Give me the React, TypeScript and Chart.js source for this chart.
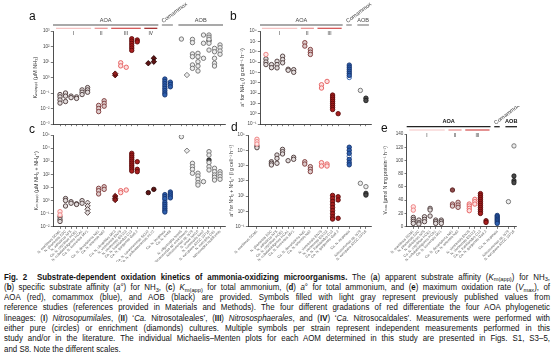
import React, { useEffect, useRef } from "react";
import { Chart, registerables } from "chart.js";
Chart.register(...registerables);

const FONT = "'Liberation Sans', 'DejaVu Sans', Arial, sans-serif";
Chart.defaults.font.family = FONT;

// ---------------- categories ----------------
const namesAC = [
  "N. maritimus SCM1", "N. piranensis D3C", "N. adriaticus NF5", "Ca. N. oxyclinae HCE1", "N. cobalaminigenes HCA1", "Ca. N. koreensis MY1",
  "Ca. N. devanaterra Nd1", "Ca. N. sinensis Nd2",
  "Ca. N. oleophilus MY3", "N. viennensis EN76", "N. viennensis EN123", "Ca. N. franklandus C13", "Ca. N. gargensis Ga9.2",
  "Ca. N. cavascurensis SCU2", "Ca. N. yellowstonensis HL72",
  "Ca. N. inopinata", "Ca. N. kreftii",
  "N. oligotropha Nm45", "Nitrosomonas sp. enrichment", "Nitrosomonas sp. Is79", "N. ureae Nm10", "N. communis Nm2", "N. europaea ATCC 19718", "N. eutropha C91", "Nitrosospira multiformis",
];
const namesBDE = [
  "N. maritimus SCM1", "N. piranensis D3C", "N. adriaticus NF5", "Ca. N. oxyclinae HCE1", "N. cobalaminigenes HCA1", "Ca. N. koreensis MY1",
  "Ca. N. devanaterra Nd1", "Ca. N. sinensis Nd2",
  "N. viennensis EN76", "N. viennensis EN123", "Ca. N. franklandus C13", "Ca. N. gargensis Ga9.2",
  "Ca. N. inopinata",
  "Nitrosomonas sp. Is79", "N. europaea ATCC 19718",
];
// category positions (with gaps between lineages)
const posAC = [1, 2, 3, 4, 5, 6, 8, 9, 11, 12, 13, 14, 15, 17, 18, 20, 21, 23, 24, 25, 26, 27, 28, 29, 30];
const posBE = [1, 2, 3, 4, 5, 6, 8, 9, 11, 12, 13, 14, 16, 18, 19];
const posD = [-0.6, 2, 3, 4, 5, 6, 8, 9, 11, 12, 13, 14, 16, 18, 19];

// ---------------- values: [category, style, values] ----------------
// (a) Km(app) for NH3, log10(µM)
const kmNH3: [number, string, number[]][] = [
  [0, "I", [-1.1, -1.25, -1.45, -1.65]],
  [1, "I", [-1.0, -1.2, -1.55]],
  [2, "I", [-1.2, -1.3]],
  [3, "I", [-1.25, -1.35]],
  [4, "I", [-0.8, -0.95, -1.1]],
  [5, "I", [-0.65, -0.8, -0.95]],
  [6, "II", [-1.8, -2.0, -2.2]],
  [7, "II", [-1.5, -1.67, -1.85]],
  [8, "IIId", [0.15, 0.25]],
  [9, "IIIp", [0.95, 0.75]],
  [10, "IIIp", [0.66]],
  [11, "III", [2.5, 2.35, 2.2, 2.05, 1.9, 1.75]],
  [12, "III", [2.42, 2.3]],
  [13, "IVd", [0.92]],
  [14, "IVd", [1.24, 1.02]],
  [15, "com", [-0.1, -0.25, -0.4, -0.55, -0.7, -0.85, -1.0, -1.12]],
  [16, "com", [-0.3, -0.45, -0.6]],
  [17, "aob", [2.48]],
  [18, "aobDi", [0.16]],
  [19, "aob", [2.46, 2.25, 1.52, 1.34, 0.81, 0.59]],
  [20, "aob", [1.56, 1.34, 1.02, 0.74, 0.42]],
  [21, "aob", [2.74, 2.21, 1.24]],
  [22, "aob", [2.74, 2.6, 2.46, 2.21, 1.77]],
  [22, "aobD", [2.37]],
  [23, "aob", [1.88, 1.66, 1.24, 0.92, 0.74]],
  [24, "aob", [2.1, 1.92, 1.71, 1.5]],
];
// (b) a° for NH3, log10(l g cell-1 h-1)
const aNH3: [number, string, number[]][] = [
  [0, "Ip", [5.73]],
  [0, "I", [5.3, 5.0, 4.75]],
  [1, "I", [4.75, 4.45]],
  [2, "I", [5.07, 4.75, 4.43]],
  [3, "I", [5.56, 5.24, 4.92]],
  [4, "I", [4.3, 4.2]],
  [5, "I", [4.26, 4.0]],
  [6, "II", [6.87, 6.54]],
  [7, "II", [6.21, 5.95, 5.73]],
  [8, "IIIp", [2.8, 2.48]],
  [9, "IIIp", [3.12]],
  [10, "III", [1.8, 1.6, 1.4, 1.2, 1.0, 0.8, 0.6, 0.4]],
  [11, "III", [0.0]],
  [12, "com", [4.7, 4.5, 4.3, 4.1, 3.9, 3.7]],
  [12, "comL", [3.5]],
  [13, "aob", [2.25]],
  [14, "aobD", [1.5, 1.27]],
];
// (c) Km(app) for NH3 + NH4+, log10(µM)
const kmTot: [number, string, number[]][] = [
  [0, "Ip", [-0.85, -1.1]],
  [0, "I", [-1.25, -1.45, -1.6]],
  [1, "I", [0.15, 0.0, -0.42]],
  [2, "I", [-0.09, -0.21]],
  [3, "I", [-0.25, -0.3]],
  [4, "I", [-0.01, -0.21]],
  [5, "Id", [-0.17, -0.42, -0.67, -0.93]],
  [6, "II", [0.93, 0.75, 0.5]],
  [7, "II", [1.05, 0.85]],
  [8, "IIId", [0.34, 0.17, 0.04]],
  [9, "IIIp", [0.75, 0.6]],
  [10, "IIIp", [0.8]],
  [11, "III", [3.6, 3.45, 3.3, 3.15, 3.0, 2.85, 2.7, 2.55, 2.4, 2.25]],
  [12, "III", [2.96, 2.38, 2.2]],
  [13, "IV", [0.6]],
  [14, "IV", [0.85]],
  [15, "com", [0.45, 0.3, 0.15, -0.15, -0.3, -0.45, -0.6, -0.75, -0.88]],
  [15, "comL", [0.05]],
  [16, "com", [0.65, 0.5, 0.35, 0.2]],
  [17, "aob", [4.87]],
  [18, "aobDi", [3.8]],
  [19, "aob", [2.84, 2.58, 2.38, 2.08]],
  [20, "aob", [2.08, 1.87, 1.62, 1.36, 1.18]],
  [21, "aob", [1.44]],
  [22, "aob", [3.73, 3.47, 2.89, 2.58, 2.33]],
  [22, "aobD", [3.09]],
  [23, "aob", [2.46, 2.2, 1.95, 1.77, 1.56]],
  [24, "aob", [2.2, 2.02, 1.82, 1.62]],
];
// (d) a° for NH3 + NH4+, log10(l g cell-1 h-1)
const aTot: [number, string, number[]][] = [
  [0, "Ip", [4.72, 4.56, 4.41]],
  [0, "I", [4.28, 4.17]],
  [1, "I", [3.25, 3.15, 3.04]],
  [2, "I", [3.69, 3.47, 3.15]],
  [3, "I", [4.06, 3.91, 3.76]],
  [4, "I", [3.32]],
  [5, "I", [3.54, 3.41]],
  [6, "II", [3.25, 3.1]],
  [7, "II", [2.93, 2.76, 2.6]],
  [8, "IIIp", [3.19, 2.97]],
  [9, "IIIp", [3.1, 2.97]],
  [10, "III", [1.05, 0.85, 0.65, 0.45, 0.25, 0.05, -0.15, -0.35, -0.5]],
  [11, "III", [0.96, 0.75, -0.45]],
  [12, "com", [4.2, 4.0, 3.8, 3.4, 3.2, 3.05]],
  [12, "comL", [3.6]],
  [13, "aob", [1.84]],
  [14, "aob", [1.62]],
  [14, "aobD", [1.18, 1.07]],
];
// (e) Vmax, µmol N mg protein-1 h-1
const vmax: [number, string, number[]][] = [
  [0, "Ip", [30, 25]],
  [0, "I", [14, 11, 8, 5]],
  [1, "I", [10, 6, 4]],
  [2, "I", [15, 11, 7.6]],
  [3, "I", [27.7, 25.2, 16.1]],
  [4, "I", [10, 7.6, 5]],
  [5, "I", [10, 7.6, 5]],
  [6, "IIf", [55.4]],
  [6, "II", [34.2, 31.2]],
  [7, "II", [36.8, 32.7, 29.2]],
  [8, "IIIp", [34.2, 31.2, 27.7, 24.2]],
  [9, "IIIp", [41.3, 37.8, 34.2]],
  [10, "III", [50, 47, 44, 41, 38, 35, 32, 29, 26, 23, 20]],
  [11, "III", [9, 6.5]],
  [12, "com", [17, 15, 13, 11, 9, 7, 5]],
  [13, "aob", [37.8]],
  [14, "aob", [122]],
  [14, "aobD", [76.5, 69.5, 66.5]],
];

// ---------------- styles ----------------
const STYLES: Record<string, { shape: string; fill: string; border: string }> = {
  I: { shape: "circle", fill: "#e2dcdc", border: "#4a3838" },
  Id: { shape: "rectRot", fill: "#e2dcdc", border: "#4a3838" },
  Ip: { shape: "circle", fill: "#fde6e6", border: "#ec7a7a" },
  II: { shape: "circle", fill: "#dccaca", border: "#7a3636" },
  IIf: { shape: "circle", fill: "#8e4a4a", border: "#5a2020" },
  IIId: { shape: "rectRot", fill: "#8f1c1c", border: "#4a0808" },
  IIIp: { shape: "circle", fill: "#fde0e0", border: "#e45a5a" },
  III: { shape: "circle", fill: "#a81e1e", border: "#5c0a0a" },
  IV: { shape: "circle", fill: "#5c1414", border: "#2a0404" },
  IVd: { shape: "rectRot", fill: "#5c1414", border: "#2a0404" },
  com: { shape: "circle", fill: "#2d5fae", border: "#15336e" },
  comL: { shape: "circle", fill: "#ffffff", border: "#2d5fae" },
  aob: { shape: "circle", fill: "#ececec", border: "#6e6e6e" },
  aobD: { shape: "circle", fill: "#4a4a4a", border: "#1e1e1e" },
  aobDi: { shape: "rectRot", fill: "#ececec", border: "#6e6e6e" },
};

const SUP: Record<string, string> = { "-": "⁻", "0": "⁰", "1": "¹", "2": "²", "3": "³", "4": "⁴", "5": "⁵", "6": "⁶", "7": "⁷", "8": "⁸", "9": "⁹" };
const sup = (n: number) => String(n).split("").map((c) => SUP[c]).join("");

type Lineage = { label: string; from: number; to: number; color: string };
type Brackets = {
  main: number; sub: number; text: number; num: number;
  mainColor: string; textColor: string; bold: boolean;
  aoaEnd: number; lineages: Lineage[]; com: [number, number]; aob: [number, number];
};

const LIN_COL = ["#f6c3c3", "#ea8c8c", "#d24a4a", "#9e1f1f"];
const bracketsA: Brackets = {
  main: -6, sub: -2.7, text: -10.3, num: 3, mainColor: "#8c8c8c", textColor: "#444", bold: false,
  aoaEnd: 14,
  lineages: [
    { label: "I", from: 0, to: 5, color: LIN_COL[0] },
    { label: "II", from: 6, to: 7, color: LIN_COL[1] },
    { label: "III", from: 8, to: 12, color: LIN_COL[2] },
    { label: "IV", from: 13, to: 14, color: LIN_COL[3] },
  ],
  com: [15, 16], aob: [17, 24],
};
const bracketsB: Brackets = {
  main: -6, sub: -2.7, text: -10.3, num: 3, mainColor: "#8c8c8c", textColor: "#444", bold: false,
  aoaEnd: 11,
  lineages: [
    { label: "I", from: 0, to: 5, color: LIN_COL[0] },
    { label: "II", from: 6, to: 7, color: LIN_COL[1] },
    { label: "III", from: 8, to: 11, color: LIN_COL[2] },
  ],
  com: [12, 12], aob: [13, 14],
};
const bracketsE: Brackets = { ...bracketsB, main: -7.3, sub: -4, text: -12.3, num: 1.8, mainColor: "#222", textColor: "#111", bold: true };

function bracketPlugin(spec: Brackets, xPos: number[]) {
  return {
    id: "brackets",
    afterDraw(chart: any) {
      const { ctx, chartArea } = chart;
      const xs = chart.scales.x;
      const px = (i: number) => xs.getPixelForValue(xPos[i]);
      const top = chartArea.top;
      const line = (x1: number, x2: number, y: number, color: string, w = 1.3) => {
        ctx.beginPath(); ctx.strokeStyle = color; ctx.lineWidth = w;
        ctx.moveTo(x1, y); ctx.lineTo(x2, y); ctx.stroke();
      };
      const label = (t: string, x: number, y: number, size: number, color: string, bold: boolean) => {
        ctx.font = `${bold ? "bold " : ""}${size}px ${FONT}`;
        ctx.fillStyle = color; ctx.textAlign = "center"; ctx.textBaseline = "middle";
        ctx.fillText(t, x, y);
      };
      ctx.save();
      const yM = top + spec.main;
      const aoaR = px(spec.aoaEnd) + 4.5;
      line(chartArea.left, aoaR, yM, spec.mainColor);
      label("AOA", (chartArea.left + aoaR) / 2, top + spec.text, 5.6, spec.textColor, spec.bold);
      spec.lineages.forEach((l) => {
        const x1 = px(l.from) - 4, x2 = px(l.to) + 3.5;
        line(x1, x2, top + spec.sub, l.color, 1.2);
        label(l.label, (x1 + x2) / 2, top + spec.num, 4.8, "#333", false);
      });
      const c1 = px(spec.com[0]) - 3, c2 = px(spec.com[1]) + 2.5;
      line(c1, c2, yM, spec.mainColor);
      ctx.save();
      ctx.translate(c1 + 1.5, yM - 2);
      ctx.rotate((-37 * Math.PI) / 180);
      ctx.font = `5.6px ${FONT}`;
      ctx.fillStyle = "#444"; ctx.textAlign = "left"; ctx.textBaseline = "alphabetic";
      ctx.fillText("Comammox", 0, 0);
      ctx.restore();
      const b1 = px(spec.aob[0]) - 3, b2 = px(spec.aob[1]) + 3;
      line(b1, b2, yM, spec.mainColor);
      label("AOB", (b1 + b2) / 2, top + spec.text, 5.6, spec.textColor, spec.bold);
      ctx.restore();
    },
  };
}

type PanelProps = {
  left: number; top: number; w: number; h: number;
  area: { l: number; r: number; t: number; b: number };
  log: boolean; yMin: number; yMax: number; yStep?: number;
  xMin: number; xMax: number; xPos: number[]; names: string[]; showX: boolean;
  points: [number, string, number[]][]; title: string; titleSize: number; brackets?: Brackets;
};

function Panel(p: PanelProps) {
  const ref = useRef<HTMLCanvasElement>(null);
  useEffect(() => {
    const canvas = ref.current!;
    const yW = p.area.l - p.left;
    const xH = p.top + p.h - p.area.b;
    const datasets = p.points.map(([idx, st, vals]) => {
      const s = STYLES[st];
      return {
        data: vals.map((v) => ({ x: p.xPos[idx], y: p.log ? Math.pow(10, v) : v })),
        pointStyle: s.shape,
        pointRadius: s.shape === "rectRot" ? 2.7 : 2.2,
        pointBorderWidth: 0.9,
        backgroundColor: s.fill,
        borderColor: s.border,
        showLine: false,
      };
    });
    const zeroPad = (s: any) => { s.paddingLeft = 0; s.paddingRight = 0; s.paddingTop = 0; s.paddingBottom = 0; };
    const yTicks: number[] = [];
    if (p.log) for (let e = p.yMin; e <= p.yMax; e++) yTicks.push(e);
    const chart = new Chart(canvas, {
      type: "scatter",
      data: { datasets: datasets as any },
      options: {
        animation: false, responsive: false, maintainAspectRatio: false, devicePixelRatio: 1, events: [],
        layout: { padding: { left: 0, top: p.area.t - p.top, right: p.left + p.w - p.area.r, bottom: 0 } },
        plugins: { legend: { display: false }, tooltip: { enabled: false } },
        scales: {
          x: {
            type: "linear", min: p.xMin, max: p.xMax,
            afterBuildTicks: (s: any) => { s.ticks = p.xPos.map((v) => ({ value: v })); },
            afterFit: (s: any) => { s.height = xH; zeroPad(s); },
            ticks: {
              display: p.showX, autoSkip: false, maxRotation: 45, minRotation: 45,
              callback: (_v: any, i: number) => p.names[i],
              font: { size: 3.6 }, color: "#555", padding: 0.5,
            },
            grid: { display: true, drawOnChartArea: false, drawTicks: true, tickLength: 2.2, color: "#222", lineWidth: 0.6 },
            border: { display: true, color: "#222", width: 0.8 },
          },
          y: p.log
            ? {
                type: "logarithmic", min: Math.pow(10, p.yMin), max: Math.pow(10, p.yMax),
                afterBuildTicks: (s: any) => { s.ticks = yTicks.map((e) => ({ value: Math.pow(10, e) })); },
                afterFit: (s: any) => { s.width = yW; zeroPad(s); },
                ticks: { callback: (v: any) => "10" + sup(Math.round(Math.log10(v))), font: { size: 4.6 }, color: "#444", padding: 1.2 },
                grid: { display: true, drawOnChartArea: false, drawTicks: true, tickLength: 2.2, color: "#222", lineWidth: 0.6 },
                border: { display: true, color: "#222", width: 0.8 },
                title: { display: true, text: p.title, font: { size: p.titleSize }, color: "#333", padding: { top: 0, bottom: 0 } },
              }
            : {
                type: "linear", min: p.yMin, max: p.yMax,
                ticks: { stepSize: p.yStep, font: { size: 4.6 }, color: "#444", padding: 1.2 },
                afterFit: (s: any) => { s.width = yW; zeroPad(s); },
                grid: { display: true, drawOnChartArea: false, drawTicks: true, tickLength: 2.2, color: "#222", lineWidth: 0.6 },
                border: { display: true, color: "#222", width: 0.8 },
                title: { display: true, text: p.title, font: { size: p.titleSize }, color: "#333", padding: { top: 0, bottom: 0 } },
              },
        },
      } as any,
      plugins: p.brackets ? [bracketPlugin(p.brackets, p.xPos)] : [],
    });
    return () => chart.destroy();
  }, []);
  return (
    <canvas
      ref={ref}
      width={p.w}
      height={p.h}
      style={{ position: "absolute", left: p.left, top: p.top, width: p.w, height: p.h }}
    />
  );
}

const letter = (t: string, x: number, y: number) => (
  <div style={{ position: "absolute", left: x, top: y, fontSize: 12, lineHeight: "12px", fontFamily: FONT, color: "#111" }}>{t}</div>
);

const sb: React.CSSProperties = { fontSize: "0.72em", position: "relative", top: "0.3em", lineHeight: 0 };
const capLine: React.CSSProperties = {
  height: 10.3, lineHeight: "10.3px", whiteSpace: "nowrap", textAlign: "justify", textAlignLast: "justify" as any,
};
const CAP_SCALE = 0.93;

export default function App() {
  return (
    <div style={{ position: "fixed", left: 0, top: 0, width: 554, height: 354, overflow: "hidden", background: "#fff", fontFamily: FONT }}>
      <Panel left={32} top={0} w={198} h={130} area={{ l: 53, r: 225, t: 31, b: 124 }}
        log yMin={-3} yMax={3} xMin={-0.27} xMax={30.9} xPos={posAC} names={namesAC} showX={false}
        points={kmNH3} title="Kₘ₍ₐₚₚ₎ (µM NH₃)" titleSize={5.6} brackets={bracketsA} />
      <Panel left={239} top={0} w={137} h={130} area={{ l: 260, r: 372, t: 31, b: 124 }}
        log yMin={-1} yMax={8} xMin={-0.07} xMax={19.93} xPos={posBE} names={namesBDE} showX={false}
        points={aNH3} title="a° for NH₃ (l g cell⁻¹ h⁻¹)" titleSize={5.4} brackets={bracketsB} />
      <Panel left={33} top={128} w={197} h={134} area={{ l: 53, r: 225, t: 135, b: 226.7 }}
        log yMin={-2} yMax={5} xMin={-0.27} xMax={30.9} xPos={posAC} names={namesAC} showX
        points={kmTot} title="Kₘ₍ₐₚₚ₎ (µM NH₃ + NH₄⁺)" titleSize={5.4} />
      <Panel left={229} top={128} w={147} h={134} area={{ l: 248, r: 372, t: 135, b: 226.7 }}
        log yMin={-1} yMax={5} xMin={-2.21} xMax={19.93} xPos={posD} names={namesBDE} showX
        points={aTot} title="a° for NH₃ + NH₄⁺ (l g cell⁻¹ h⁻¹)" titleSize={5.0} />
      <Panel left={383} top={106} w={171} h={156} area={{ l: 406.7, r: 516.7, t: 134, b: 226.7 }}
        log={false} yMin={0} yMax={140} yStep={20} xMin={-0.18} xMax={19.48} xPos={posBE} names={namesBDE} showX
        points={vmax} title="Vₘₐₓ (µmol N mg protein⁻¹ h⁻¹)" titleSize={5.0} brackets={bracketsE} />

      {letter("a", 29, 10)}
      {letter("b", 230, 10)}
      {letter("c", 29, 123)}
      {letter("d", 231, 121)}
      {letter("e", 381, 122)}

      <div style={{
        position: "absolute", left: 4, top: 271.5, width: 546 / CAP_SCALE, fontSize: 8.5, color: "#111", fontFamily: FONT,
        transform: `scaleX(${CAP_SCALE})`, transformOrigin: "0 0",
      }}>
        <div style={capLine}>
          <b>Fig. 2</b>&nbsp;&nbsp;<b>Substrate-dependent oxidation kinetics of ammonia-oxidizing microorganisms.</b> The (<b>a</b>) apparent substrate affinity (<i>K</i><span style={sb}>m(app)</span>) for NH<span style={sb}>3</span>,
        </div>
        <div style={capLine}>
          (<b>b</b>) specific substrate affinity (<i>a</i>°) for NH<span style={sb}>3</span>, (<b>c</b>) <i>K</i><span style={sb}>m(app)</span> for total ammonium, (<b>d</b>) <i>a</i>° for total ammonium, and (<b>e</b>) maximum oxidation rate (<i>V</i><span style={sb}>max</span>), of
        </div>
        <div style={capLine}>
          AOA (red), comammox (blue), and AOB (black) are provided. Symbols filled with light gray represent previously published values from
        </div>
        <div style={capLine}>
          reference studies (references provided in Materials and Methods). The four different gradations of red differentiate the four AOA phylogenetic
        </div>
        <div style={capLine}>
          lineages: (<b>I</b>) <i>Nitrosopumilales</i>, (<b>II</b>) ‘<i>Ca.</i> Nitrosotaleales’, (<b>III</b>) <i>Nitrososphaerales</i>, and (<b>IV</b>) ‘<i>Ca.</i> Nitrosocaldales’. Measurements were performed with
        </div>
        <div style={capLine}>
          either pure (circles) or enrichment (diamonds) cultures. Multiple symbols per strain represent independent measurements performed in this
        </div>
        <div style={capLine}>
          study and/or in the literature. The individual Michaelis–Menten plots for each AOM determined in this study are presented in Figs. S1, S3–5,
        </div>
        <div style={{ ...capLine, textAlign: "left", textAlignLast: "left" as any }}>and S8. Note the different scales.</div>
      </div>
    </div>
  );
}
